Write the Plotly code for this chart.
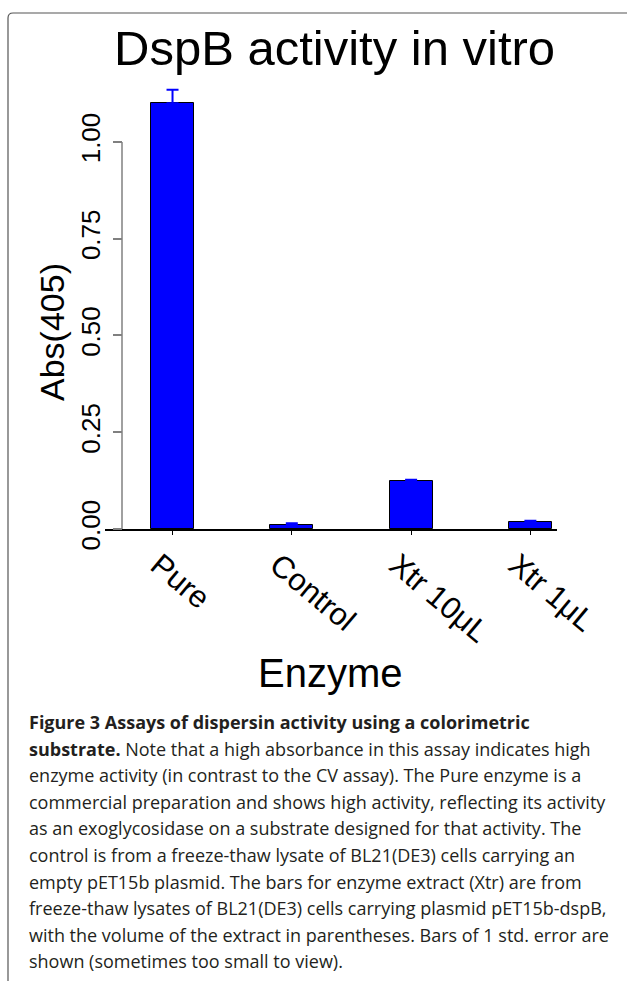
import plotly.graph_objects as go

categories = ["Pure", "Control", "Xtr 10μL", "Xtr 1μL"]
values = [1.10, 0.010, 0.124, 0.017]
errors = [0.035, 0.005, 0.003, 0.004]
ytick_vals = [0.0, 0.25, 0.5, 0.75, 1.0]
ytick_text = ["0.00", "0.25", "0.50", "0.75", "1.00"]

caption_lines = [
    "<b>Figure 3 Assays of dispersin activity using a colorimetric</b>",
    "<b>substrate.</b> Note that a high absorbance in this assay indicates high",
    "enzyme activity (in contrast to the CV assay). The Pure enzyme is a",
    "commercial preparation and shows high activity, reflecting its activity",
    "as an exoglycosidase on a substrate designed for that activity. The",
    "control is from a freeze-thaw lysate of BL21(DE3) cells carrying an",
    "empty pET15b plasmid. The bars for enzyme extract (Xtr) are from",
    "freeze-thaw lysates of BL21(DE3) cells carrying plasmid pET15b-dspB,",
    "with the volume of the extract in parentheses. Bars of 1 std. error are",
    "shown (sometimes too small to view).",
]

W, H = 627, 981
L, R, T, B = 105, 557, 85, 529  # plot area in pixels


def px(xp):
    return (xp - L) / (R - L)


def py(yp):
    return (B - yp) / (B - T)


FONT = "Liberation Sans, Arial, Helvetica, sans-serif"

fig = go.Figure()
fig.add_trace(go.Bar(
    x=categories,
    y=values,
    width=0.36,
    marker=dict(color="#0000FF", line=dict(color="black", width=1)),
    error_y=dict(type="data", array=errors, arrayminus=[0] * len(errors),
                 symmetric=False, color="#0000FF", thickness=2, width=6),
))

yaxis_pos = px(122)

fig.update_layout(
    width=W, height=H,
    margin=dict(l=L, r=W - R, t=T, b=H - B, pad=0),
    plot_bgcolor="white", paper_bgcolor="white",
    showlegend=False,
    bargap=0,
    xaxis=dict(
        type="category",
        range=[-0.566, 3.223],
        showline=True, linecolor="black", linewidth=1.5,
        ticks="outside", ticklen=4, tickcolor="black", tickwidth=1,
        tickangle=40,
        ticklabelshift=-14,
        tickfont=dict(family=FONT, size=31, color="black"),
        showgrid=False, zeroline=False,
    ),
    yaxis=dict(
        range=[0, 1.147],
        anchor="free", position=yaxis_pos,
        showline=False,
        tickvals=ytick_vals, ticktext=ytick_text,
        ticks="outside", ticklen=9, tickcolor="#808080", tickwidth=1.5,
        tickangle=-90,
        ticklabelstandoff=3,
        tickfont=dict(family=FONT, size=26, color="black"),
        showgrid=False, zeroline=False,
    ),
)

# y axis line from 0 to 1.00 only
fig.add_shape(type="line", xref="paper", yref="y",
              x0=yaxis_pos, x1=yaxis_pos, y0=0, y1=1.0,
              line=dict(color="#808080", width=1.5))

# Border with rounded top-left corner
path = (f"M {px(8)},{py(990)} L {px(8)},{py(18)} "
        f"Q {px(8)},{py(13)} {px(13)},{py(13)} L {px(640)},{py(13)}")
fig.add_shape(type="path", xref="paper", yref="paper", path=path,
              line=dict(color="#555555", width=1.2))

# Titles
fig.add_annotation(text="DspB activity in vitro", xref="paper", yref="paper",
                   x=px(334), y=py(48), xanchor="center", yanchor="middle",
                   showarrow=False, font=dict(family=FONT, size=49, color="black"))
fig.add_annotation(text="Abs(405)", xref="paper", yref="paper",
                   x=px(52), y=py(332), xanchor="center", yanchor="middle",
                   textangle=-90, showarrow=False,
                   font=dict(family=FONT, size=34, color="black"))
fig.add_annotation(text="Enzyme", xref="paper", yref="paper",
                   x=px(330), y=py(673), xanchor="center", yanchor="middle",
                   showarrow=False, font=dict(family=FONT, size=40, color="black"))

# Caption
CAP_FONT = "Open Sans, Noto Sans, sans-serif"
for i, line in enumerate(caption_lines):
    fig.add_annotation(text=line, xref="paper", yref="paper",
                       x=px(27), y=py(722 + i * 26.6), xanchor="left", yanchor="middle",
                       showarrow=False, align="left",
                       font=dict(family=CAP_FONT, size=18, color="#231f20"))

fig.write_html("out.html",
               config={"displayModeBar": False},
               post_script="document.body.style.margin='0';document.body.style.padding='0';")
